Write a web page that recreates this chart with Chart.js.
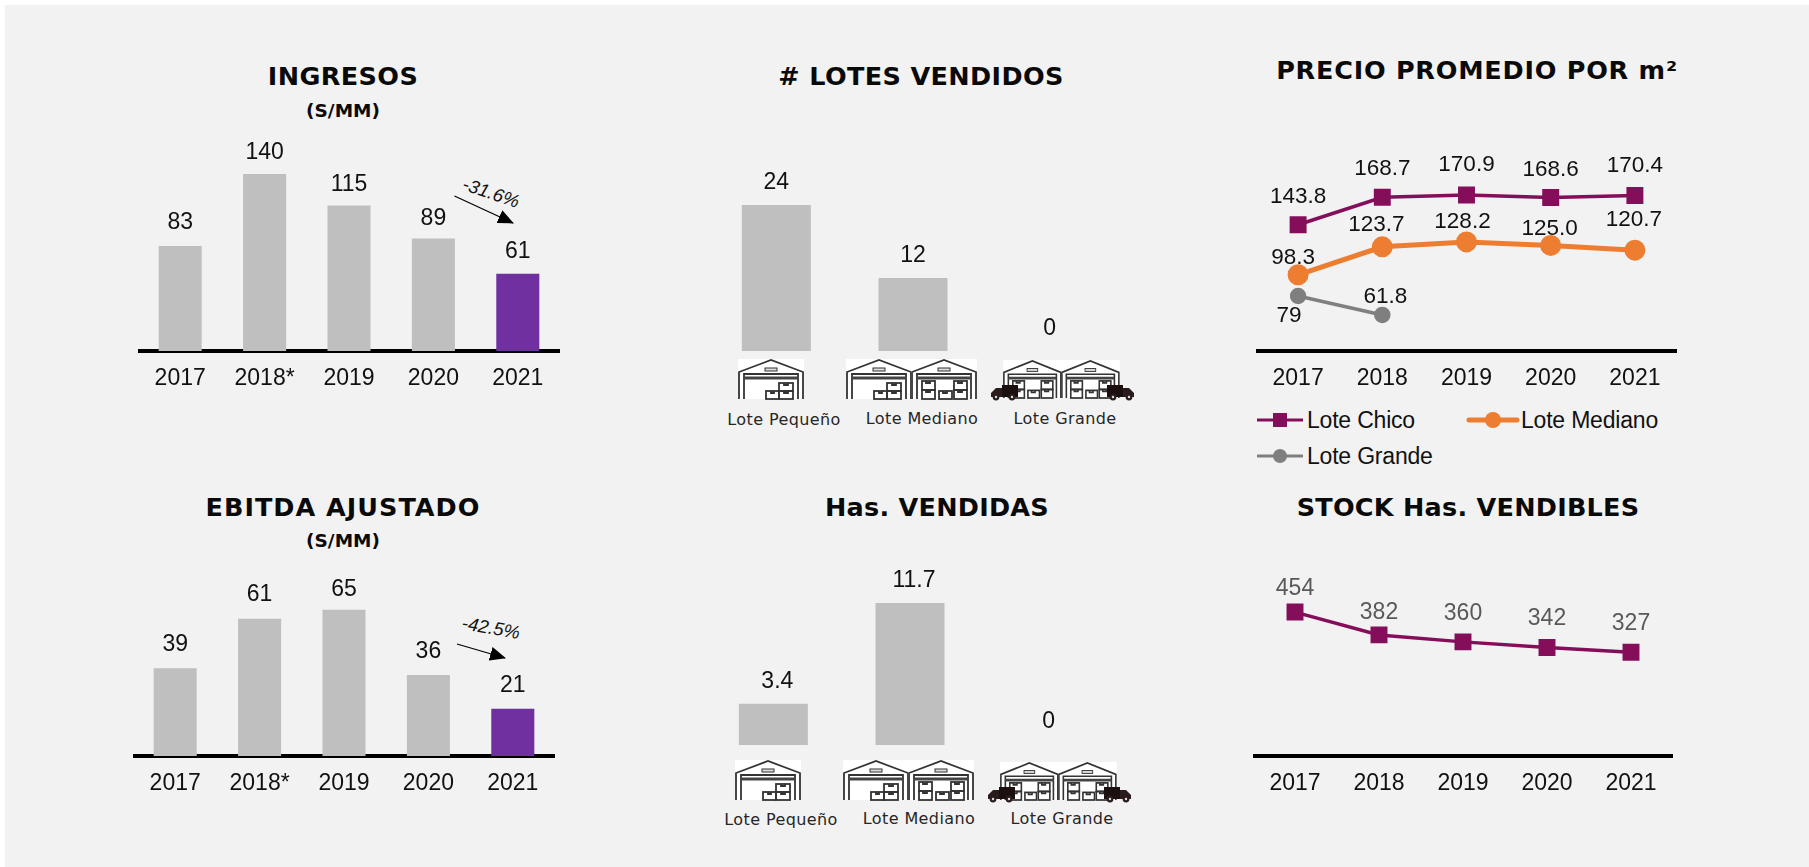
<!DOCTYPE html>
<html><head><meta charset="utf-8">
<script src="https://cdn.jsdelivr.net/npm/chart.js@4"></script>
<style>
html,body{margin:0;padding:0;background:#fff;width:1809px;height:867px;overflow:hidden}
#panel{position:absolute;left:5px;top:5px;width:1804px;height:862px;background:#f2f2f2}
canvas{position:absolute;display:block}
.t{position:absolute;transform:translate(-50%,-50%);white-space:nowrap;color:#0a0a0a;font-family:"DejaVu Sans",sans-serif;font-weight:700}
.h{font-size:25.5px;letter-spacing:0}
.s{font-size:18.5px}
.c{font-size:16px;font-weight:400;color:#262626;letter-spacing:.4px}
.l{font-family:"Liberation Sans",Arial,sans-serif;font-weight:400;font-size:23px;letter-spacing:-.2px;transform:translate(0,-50%);color:#111}
.r{font-family:"Liberation Sans",Arial,sans-serif;font-weight:400;font-style:italic;font-size:18.5px;color:#111}
svg.o{position:absolute;left:0;top:0}
</style></head><body>
<div id="panel"></div>
<svg class="o" width="1809" height="867" style="z-index:2">
<defs>
<g id="wh">
 <rect x="0" y="0" width="66" height="40" fill="#fff"/>
 <path d="M1 40V13L33 1L65 13V40" fill="#fff" stroke="#333" stroke-width="1.8"/>
 <path d="M6 40V15H60V40" fill="#fff" stroke="#333" stroke-width="1.8"/>
 <path d="M6 19H60" stroke="#444" stroke-width="3"/>
 <rect x="27" y="9" width="12" height="3" fill="#ddd" stroke="#333"/>
</g>
<g id="bx" fill="none" stroke="#333" stroke-width="1.8">
 <rect x="28" y="32" width="13" height="8"/><rect x="41" y="32" width="14" height="8"/><rect x="41" y="24" width="14" height="8"/>
 <path d="M33 32v2h3v-2M46 32v2h4v-2M46 24v2h4v-2"/>
</g>
<g id="bx2" fill="none" stroke="#333" stroke-width="1.8">
 <rect x="11" y="31" width="13" height="9"/><rect x="11" y="22" width="13" height="9"/><rect x="28" y="32" width="13" height="8"/><rect x="43" y="31" width="13" height="9"/><rect x="43" y="22" width="13" height="9"/>
 <path d="M15 31v2h4v-2M15 22v2h4v-2M32 32v2h4v-2M47 31v2h4v-2M47 22v2h4v-2"/>
</g>
<g id="tr">
 <rect x="12" y="0" width="16" height="12" fill="#1c0f0f"/>
 <path d="M12 3H6L1 8V12H12Z" fill="#2a1c1c"/>
 <circle cx="6" cy="12" r="3.4" fill="#2a1c1c"/><circle cx="6" cy="12" r="1.2" fill="#ddd"/>
 <circle cx="22" cy="12" r="3.4" fill="#2a1c1c"/><circle cx="22" cy="12" r="1.2" fill="#ddd"/>
</g>
<marker id="ah" markerWidth="16" markerHeight="14" refX="15" refY="7" orient="auto" markerUnits="userSpaceOnUse"><path d="M0 0L16 7L0 14Z" fill="#000"/></marker>
</defs>
<!-- top row icons -->
<g transform="translate(738,359)"><use href="#wh"/><use href="#bx"/></g>
<g transform="translate(846,359)"><use href="#wh"/><use href="#bx"/></g>
<g transform="translate(911,359)"><use href="#wh"/><use href="#bx2"/></g>
<g transform="translate(1003,360) scale(.89,.95)"><use href="#wh"/><use href="#bx2"/></g>
<g transform="translate(1061,360) scale(.89,.95)"><use href="#wh"/><use href="#bx2"/></g>
<g transform="translate(990,385)"><use href="#tr"/></g>
<g transform="translate(1135,385) scale(-1,1)"><use href="#tr"/></g>
<!-- bottom row icons -->
<g transform="translate(735,760)"><use href="#wh"/><use href="#bx"/></g>
<g transform="translate(843,760)"><use href="#wh"/><use href="#bx"/></g>
<g transform="translate(908,760)"><use href="#wh"/><use href="#bx2"/></g>
<g transform="translate(1000,762) scale(.89,.95)"><use href="#wh"/><use href="#bx2"/></g>
<g transform="translate(1058,762) scale(.89,.95)"><use href="#wh"/><use href="#bx2"/></g>
<g transform="translate(987,787)"><use href="#tr"/></g>
<g transform="translate(1132,787) scale(-1,1)"><use href="#tr"/></g>
<!-- growth arrows -->
<line x1="454.5" y1="196" x2="513" y2="223" stroke="#000" stroke-width="1.3" marker-end="url(#ah)"/>
<line x1="457" y1="644" x2="505" y2="658" stroke="#000" stroke-width="1.3" marker-end="url(#ah)"/>
<!-- legend swatches -->
<line x1="1257" y1="420" x2="1303" y2="420" stroke="#850e5b" stroke-width="3"/><rect x="1273" y="413" width="14" height="14" fill="#850e5b"/>
<line x1="1469" y1="420" x2="1517" y2="420" stroke="#ed7d31" stroke-width="5" stroke-linecap="round"/><circle cx="1493" cy="420" r="8" fill="#ed7d31"/>
<line x1="1257" y1="456" x2="1303" y2="456" stroke="#7f7f7f" stroke-width="3"/><circle cx="1280" cy="456" r="7" fill="#7f7f7f"/>
</svg>
<div class="t h" style="left:343px;top:76px;letter-spacing:.4px">INGRESOS</div>
<div class="t s" style="left:343px;top:110px">(S/MM)</div>
<div class="t h" style="left:921px;top:76px;letter-spacing:.35px"># LOTES VENDIDOS</div>
<div class="t h" style="left:1477px;top:70px;letter-spacing:.75px">PRECIO PROMEDIO POR m²</div>
<div class="t h" style="left:343px;top:507px;letter-spacing:1px">EBITDA AJUSTADO</div>
<div class="t s" style="left:343px;top:540px">(S/MM)</div>
<div class="t h" style="left:937px;top:507px;letter-spacing:.25px">Has. VENDIDAS</div>
<div class="t h" style="left:1468px;top:507px;letter-spacing:.25px">STOCK Has. VENDIBLES</div>
<div class="t c" style="left:784px;top:419px">Lote Pequeño</div>
<div class="t c" style="left:922px;top:418px">Lote Mediano</div>
<div class="t c" style="left:1065px;top:418px">Lote Grande</div>
<div class="t c" style="left:781px;top:819px">Lote Pequeño</div>
<div class="t c" style="left:919px;top:818px">Lote Mediano</div>
<div class="t c" style="left:1062px;top:818px">Lote Grande</div>
<div class="t r" style="left:491px;top:193px;transform:translate(-50%,-50%) rotate(19deg)">-31.6%</div>
<div class="t r" style="left:491px;top:628px;transform:translate(-50%,-50%) rotate(10deg)">-42.5%</div>
<div class="t l" style="left:1307px;top:420px">Lote Chico</div>
<div class="t l" style="left:1521px;top:420px">Lote Mediano</div>
<div class="t l" style="left:1307px;top:456px">Lote Grande</div>
<script>
const yearsStar = ['2017','2018*','2019','2020','2021'];
const years = ['2017','2018','2019','2020','2021'];
const lotSizes = ['Lote Pequeño','Lote Mediano','Lote Grande'];
const ingresos = [83,140,115,89,61];
const ebitda = [39,61,65,36,21];
const lotesVendidos = [24,12,0];
const hasVendidas = [3.4,11.7,0];
const precioChico = [143.8,168.7,170.9,168.6,170.4];
const precioMediano = [98.3,123.7,128.2,125.0,120.7];
const precioGrande = [79,61.8,null,null,null];
const stockHas = [454,382,360,342,327];

const GREY='#bfbfbf', VIOLET='#7030a0', WINE='#850e5b', ORANGE='#ed7d31', DGREY='#7f7f7f';
const LAB='"Liberation Sans", Arial, sans-serif';

const valueLabels = {
  id:'valueLabels',
  afterDatasetsDraw(chart){
    const ctx=chart.ctx;
    chart.data.datasets.forEach((ds,di)=>{
      const meta=chart.getDatasetMeta(di);
      const o=ds.labelOffsets||[];
      ds.data.forEach((v,i)=>{
        if(v===null) return;
        const el=meta.data[i];
        const [dx,dy]=o[i]||[0,-22];
        ctx.save();
        ctx.font=(ds.labelSize||23)+'px '+LAB;
        ctx.fillStyle=ds.labelColor||'#111';
        ctx.textAlign='center';ctx.textBaseline='middle';
        const txt=ds.labelText?ds.labelText(v):String(v);
        ctx.fillText(txt,el.x+dx,el.y+dy);
        ctx.restore();
      });
    });
  }
};

function make(cfg){
  const tickH=50;
  const c=document.createElement('canvas');
  c.width=cfg.w;c.height=cfg.plotH+tickH;
  c.style.left=cfg.x+'px';c.style.top=(cfg.base-cfg.plotH)+'px';
  c.style.zIndex=1;
  document.body.appendChild(c);
  new Chart(c,{
    type:cfg.type,
    data:{labels:cfg.labels,datasets:cfg.datasets},
    plugins:[valueLabels],
    options:{
      responsive:false,animation:false,devicePixelRatio:1,
      layout:{padding:0,autoPadding:false},
      plugins:{legend:{display:false},tooltip:{enabled:false},title:{display:false}},
      scales:{
        x:{type:'category',offset:true,
           grid:{display:false,drawTicks:false},
           border:{display:cfg.axis!==false,color:'#000',width:4},
           ticks:{display:cfg.axis!==false,color:'#111',padding:14,maxRotation:0,autoSkip:false,font:{family:LAB,size:23}},
           afterFit(s){s.height=tickH;}},
        y:{display:false,min:cfg.min||0,max:(cfg.min||0)+cfg.plotH/cfg.ppu}
      }
    }
  });
}
const barDs=(data,colors,off,bp)=>({data,backgroundColor:colors,barPercentage:bp,categoryPercentage:1,labelOffsets:off});

make({type:'bar',x:138,w:422,base:351,plotH:230,ppu:1.265,labels:yearsStar,
  datasets:[barDs(ingresos,[GREY,GREY,GREY,GREY,VIOLET],[[0,-23],[0,-21],[0,-21],[0,-20],[0,-22]],.51)]});
make({type:'bar',x:133,w:422,base:756,plotH:230,ppu:2.25,labels:yearsStar,
  datasets:[barDs(ebitda,[GREY,GREY,GREY,GREY,VIOLET],[[0,-24],[0,-24],[0,-20],[0,-23],[0,-23]],.51)]});
make({type:'bar',x:708,w:410,base:351,plotH:230,ppu:6.08,labels:lotSizes,axis:false,
  datasets:[barDs(lotesVendidos,[GREY,GREY,GREY],[[0,-22],[0,-22],[0,-22]],.505)]});
make({type:'bar',x:705,w:410,base:745,plotH:230,ppu:12.13,labels:lotSizes,axis:false,
  datasets:[barDs(hasVendidas,[GREY,GREY,GREY],[[4,-22],[4,-22],[2,-23]],.505)]});
make({type:'line',x:1256,w:421,base:351,plotH:230,ppu:1.1,min:29,labels:years,
  datasets:[
   {data:precioChico,borderColor:WINE,backgroundColor:WINE,borderWidth:3.5,pointStyle:'rect',pointRadius:9.5,tension:0,clip:false,labelSize:22.5,
    labelOffsets:[[0,-28],[0,-29],[0,-30],[0,-28],[0,-30]],labelText:v=>v.toFixed(1)},
   {data:precioMediano,borderColor:ORANGE,backgroundColor:ORANGE,borderWidth:5,pointStyle:'circle',pointRadius:8,tension:0,clip:false,labelSize:22.5,
    labelOffsets:[[-5,-17],[-6,-22],[-4,-20],[-1,-17],[-1,-30]],labelText:v=>v.toFixed(1)},
   {data:precioGrande,borderColor:DGREY,backgroundColor:DGREY,borderWidth:3.5,pointStyle:'circle',pointRadius:6.5,tension:0,clip:false,spanGaps:false,labelSize:22.5,
    labelOffsets:[[-9,20],[3,-18]]}
  ]});
make({type:'line',x:1253,w:420,base:756,plotH:230,ppu:.317,labels:years,
  datasets:[{data:stockHas,borderColor:WINE,backgroundColor:WINE,borderWidth:3.5,pointStyle:'rect',pointRadius:9.5,tension:0,clip:false,labelColor:'#595959',
    labelOffsets:[[0,-23],[0,-22],[0,-28],[0,-29],[0,-29]]}]});
</script>
</body></html>
